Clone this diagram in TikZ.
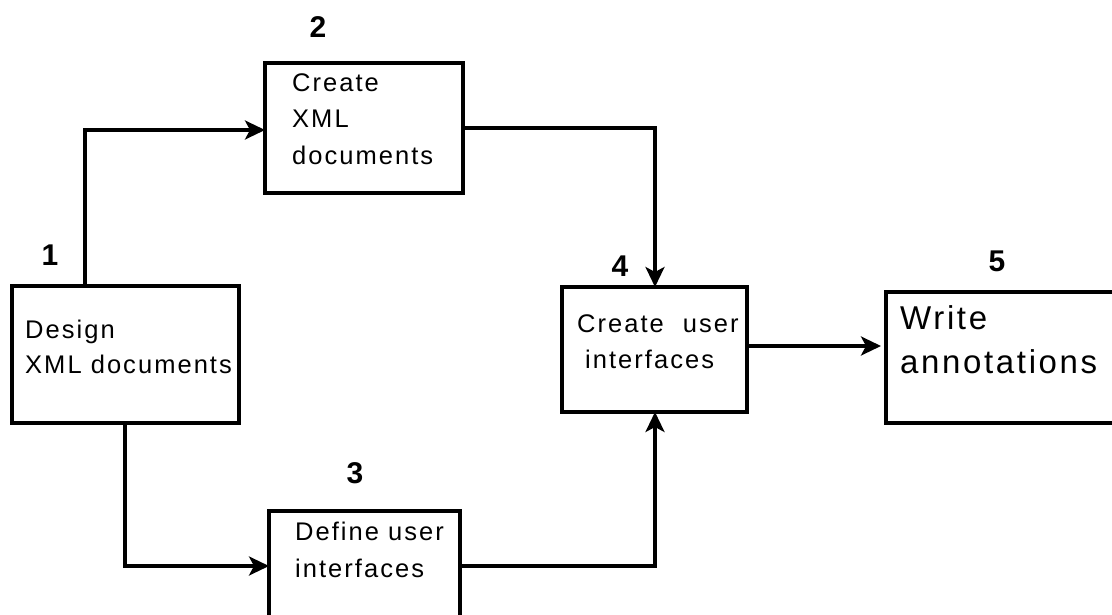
\documentclass[tikz,border=0pt]{standalone}
\usepackage{fontspec}
\setmainfont{Liberation Sans}[LetterSpace=8]
\newfontfamily\numfont{Liberation Sans}
\usetikzlibrary{arrows.meta}
\tikzset{
  box/.style={draw=black, line width=3.3pt, fill=white, outer sep=0pt, inner sep=0pt, rectangle},
  conn/.style={draw=black, line width=3.2pt},
  arr/.style={conn, -{Stealth[length=20pt,width=19pt,inset=5pt]}},
  txt/.style={anchor=base west, inner sep=0pt, font=\fontsize{25.5}{30}\selectfont},
  bigtxt/.style={anchor=base west, inner sep=0pt, font=\fontsize{33}{40}\selectfont},
  num/.style={anchor=center, inner sep=0pt, font=\numfont\bfseries\fontsize{30}{32}\selectfont},
}
\begin{document}
\begin{tikzpicture}[x=1pt,y=-1pt]
\clip (0,0) rectangle (1112,615);
\fill[white] (0,0) rectangle (1112,615);

% boxes
\node[box, minimum width=227pt, minimum height=137pt] (b1) at (125.5,354.5) {};
\node[box, minimum width=198pt, minimum height=130pt] (b2) at (364,128) {};
\node[box, minimum width=191pt, minimum height=139pt] (b3) at (364.5,580.5) {};
\node[box, minimum width=185pt, minimum height=125pt] (b4) at (654.5,349.5) {};
\node[box, minimum width=244pt, minimum height=131pt] (b5) at (1008,357.5) {};

% texts
\node[txt] (t1a) at (25,338) {Design};
\node[txt] (t1b) at (25,373) {XML documents};
\node[txt] (t2a) at (292,92) {Create};
\node[txt] (t2b) at (292,128) {XML};
\node[txt] (t2c) at (292,165) {documents};
\node[txt] (t3a) at (295,540) {Define user};
\node[txt] (t3b) at (295,577) {interfaces};
\node[txt] (t4a) at (577,332) {Create\hspace{19pt}user};
\node[txt] (t4b) at (585,368) {interfaces};
\node[bigtxt] (t5a) at (900,329) {Write};
\node[bigtxt] (t5b) at (900,373) {annotations};

% numbers
\node[num] (n1) at (50,255) {1};
\node[num] (n2) at (318,27) {2};
\node[num] (n3) at (355,473) {3};
\node[num] (n4) at (620,266) {4};
\node[num] (n5) at (997,261) {5};

% connector corners
\coordinate (c1) at (85,130);
\coordinate (c2) at (655,128);
\coordinate (c3) at (125,566);
\coordinate (c4) at (655,566);
\coordinate (c5) at (0,346);

\draw[arr] (c1 |- b1.north) -- (c1) -- (c1 -| b2.west);
\draw[arr] (c2 -| b2.east) -- (c2) -- (c2 |- b4.north);
\draw[arr] (c3 |- b1.south) -- (c3) -- (c3 -| b3.west);
\draw[arr] (c4 -| b3.east) -- (c4) -- (c4 |- b4.south);
\draw[arr, shorten >=5pt] (c5 -| b4.east) -- (c5 -| b5.west);
\end{tikzpicture}
\end{document}
